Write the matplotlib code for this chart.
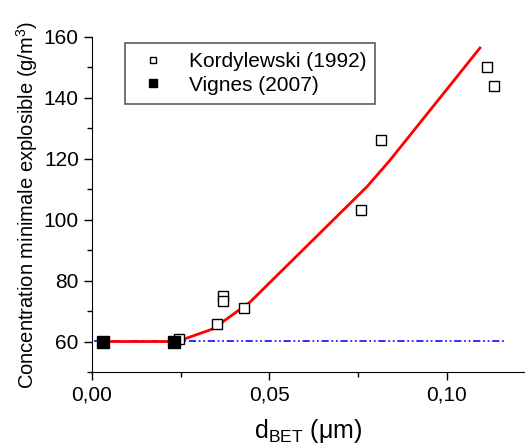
import matplotlib
matplotlib.use("Agg")
import matplotlib.pyplot as plt
from matplotlib.ticker import MultipleLocator, FuncFormatter

plt.rcParams['font.family'] = ['Liberation Sans', 'DejaVu Sans']

# Kordylewski (1992)
kord_d = [0.0245, 0.0353, 0.0370, 0.0370, 0.0429, 0.0759, 0.0814, 0.1114, 0.1133]
kord_c = [61.0, 65.9, 74.9, 73.2, 71.1, 103.3, 126.1, 150.0, 144.0]

# Vignes (2007)
vig_d = [0.0032, 0.0232]
vig_c = [60.0, 60.0]

# modele (courbe rouge)
mod_d = [0.0032, 0.0240, 0.0342, 0.0446, 0.0634, 0.0775, 0.0840, 0.1094]
mod_c = [60.0, 60.0, 64.2, 73.0, 94.6, 110.8, 119.5, 156.4]

# seuil
seuil_d = [0.0005, 0.1165]
seuil_c = [60.3, 60.3]

fig = plt.figure(figsize=(5.25, 4.46), dpi=100)
ax = fig.add_axes([92/525, 74/446, 433/525, 335/446])

ax.plot(seuil_d, seuil_c, color='#1f1fff', lw=1.3, dashes=[4, 1.5, 1, 1.5, 1, 1.5])
ax.plot(mod_d, mod_c, color='red', lw=2.0)
ax.plot(kord_d, kord_c, ls='none', marker='s', ms=7, mfc='white', mec='black', mew=1.0,
        label='Kordylewski (1992)')
ax.plot(vig_d, vig_c, ls='none', marker='s', ms=9, mfc='black', mec='black',
        label='Vignes (2007)')

ax.set_xlim(0, 0.1221)
ax.set_ylim(50, 160)
ax.xaxis.set_major_locator(MultipleLocator(0.05))
ax.xaxis.set_minor_locator(MultipleLocator(0.025))
ax.yaxis.set_major_locator(MultipleLocator(20))
ax.yaxis.set_minor_locator(MultipleLocator(10))
ax.xaxis.set_major_formatter(FuncFormatter(lambda v, p: ('%.2f' % v).replace('.', ',')))

for s in ['top', 'right']:
    ax.spines[s].set_visible(False)
ax.tick_params(which='major', direction='out', length=6, width=1, labelsize=15)
ax.tick_params(which='minor', direction='out', length=3.5, width=1)

ax.set_xlabel(r'd$_{\mathregular{BET}}$ ($\mathregular{\mu}$m)', fontsize=18, labelpad=9)
ax.set_ylabel(r'Concentration minimale explosible (g/m$^{\mathregular{3}}$)', fontsize=14.5, labelpad=3)

leg = ax.legend(loc='upper left', bbox_to_anchor=(33/433, 1 - 6/335), fontsize=15,
                frameon=True, fancybox=False, edgecolor='#333333', markerscale=0.7,
                handlelength=1.8, borderpad=0.45, labelspacing=0.2, handletextpad=0.8,
                borderaxespad=0)
leg.get_frame().set_linewidth(1.2)

fig.savefig('out.png', dpi=100)
